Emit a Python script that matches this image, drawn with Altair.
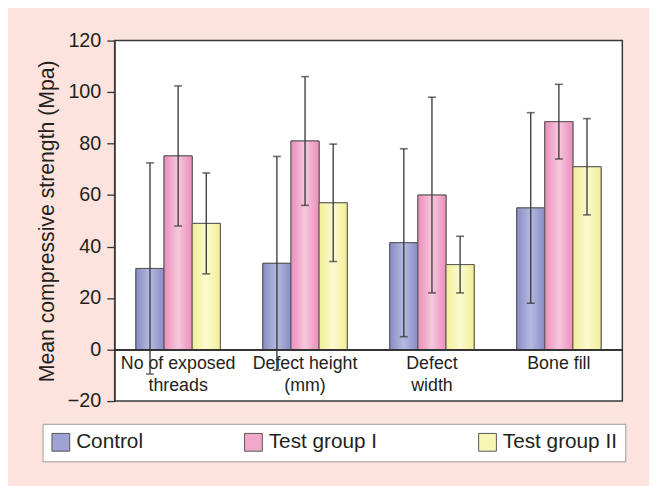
import altair as alt
import pandas as pd

categories = ["No of exposed threads", "Defect height (mm)", "Defect width", "Bone fill"]
label_lines = [["No of exposed", "threads"], ["Defect height", "(mm)"], ["Defect", "width"], ["Bone fill"]]
series = ["Control", "Test group I", "Test group II"]

control_mean = [31.5, 33.5, 41.5, 55.0]
control_sd = [41.0, 41.5, 36.5, 37.0]
test1_mean = [75.2, 81.0, 60.0, 88.5]
test1_sd = [27.2, 25.0, 38.0, 14.5]
test2_mean = [49.0, 57.0, 33.0, 71.0]
test2_sd = [19.6, 22.8, 11.0, 18.7]

y_ticks = [-20, 0, 20, 40, 60, 80, 100, 120]

solid_colors = ["#9fa3d3", "#f0a9cb", "#f8f6b4"]
edge_colors = ["#878cc6", "#ec8dbb", "#f1ee96"]
center_colors = ["#b6b9de", "#f5c8dc", "#fcfad0"]

FONT = "Liberation Sans"
TXT = "#231f20"

rows = []
for means, sds, s in [(control_mean, control_sd, series[0]),
                      (test1_mean, test1_sd, series[1]),
                      (test2_mean, test2_sd, series[2])]:
    for c, m, sd in zip(categories, means, sds):
        rows.append({"category": c, "series": s, "mean": m,
                     "lower": m - sd, "upper": m + sd})
df = pd.DataFrame(rows)

# multi-line labels
expr = "''"
for c, lines in reversed(list(zip(categories, label_lines))):
    arr = "[" + ",".join("'" + l + "'" for l in lines) + "]"
    expr = f"datum.value == '{c}' ? {arr} : ({expr})"

x_enc = alt.X("category:N", sort=categories,
              scale=alt.Scale(paddingInner=0.335, paddingOuter=0.1675),
              axis=alt.Axis(title=None, labelExpr=expr, labelAngle=0, ticks=False,
                            domain=False, offset=-50, labelPadding=3,
                            labelFontSize=18, labelFont=FONT, labelColor=TXT,
                            labelLineHeight=22, labelBaseline="top"))
xo_enc = alt.XOffset("series:N", sort=series, scale=alt.Scale(domain=series, paddingInner=0, paddingOuter=0))
y_scale = alt.Scale(domain=[-20, 120], nice=False)
y_enc = alt.Y("mean:Q", scale=y_scale,
              axis=alt.Axis(title="Mean compressive strength (Mpa)", values=y_ticks,
                            grid=False, tickSize=8, tickColor="#333333", tickWidth=1.3,
                            domainColor="#333333", labelFontSize=20, labelFont=FONT,
                            labelColor=TXT, labelPadding=6, titleFont=FONT,
                            titleFontSize=21.5, titleColor=TXT, titleFontWeight="normal",
                            titlePadding=9))

base = alt.Chart(df)

legend_bars = base.mark_bar(stroke="#555555", strokeWidth=1).encode(
    x=x_enc, xOffset=xo_enc, y=y_enc, y2=alt.datum(0),
    color=alt.Color("series:N", sort=series,
                    scale=alt.Scale(domain=series, range=solid_colors),
                    legend=alt.Legend(title=None, orient="none", legendX=-73, legendY=388,
                                      direction="horizontal", columnPadding=100,
                                      padding=8, fillColor="white", strokeColor="#9a9a9a",
                                      symbolType="square", symbolSize=324,
                                      symbolStrokeColor="#555555", symbolStrokeWidth=1,
                                      labelFontSize=21, labelFont=FONT, labelColor=TXT,
                                      labelOffset=5)),
)

grad_layers = []
for s, e, cc in zip(series, edge_colors, center_colors):
    g = alt.Gradient(gradient="linear", x1=0, x2=1, y1=0, y2=0,
                     stops=[alt.GradientStop(color=e, offset=0),
                            alt.GradientStop(color=cc, offset=0.5),
                            alt.GradientStop(color=e, offset=1)])
    grad_layers.append(
        base.transform_filter(alt.datum.series == s).mark_bar(
            color=g, stroke="#555555", strokeWidth=1).encode(
            x=x_enc, xOffset=xo_enc, y=y_enc, y2=alt.datum(0))
    )

zero = alt.Chart(df).mark_rule(color="#333333", strokeWidth=1.3).encode(y=alt.YDatum(0))

rules = base.mark_rule(color="#333333", strokeWidth=1.3).encode(
    x=x_enc, xOffset=xo_enc, y=alt.Y("lower:Q", scale=y_scale), y2="upper:Q")
cap_hi = base.mark_tick(color="#333333", thickness=1.6, size=8).encode(
    x=x_enc, xOffset=xo_enc, y=alt.Y("upper:Q", scale=y_scale))
cap_lo = base.mark_tick(color="#333333", thickness=1.6, size=8).encode(
    x=x_enc, xOffset=xo_enc, y=alt.Y("lower:Q", scale=y_scale))

chart = alt.layer(legend_bars, *grad_layers, zero, rules, cap_hi, cap_lo).properties(
    width=514, height=365,
    autosize=alt.AutoSizeParams(type="none"),
    padding={"left": 108, "top": 30, "right": 27, "bottom": 83},
    background="#fde3dd",
).configure_view(stroke="#3a3a3a", strokeWidth=1.5, fill="white")

chart.save("out.html", embed_options={"renderer": "svg", "actions": False})
